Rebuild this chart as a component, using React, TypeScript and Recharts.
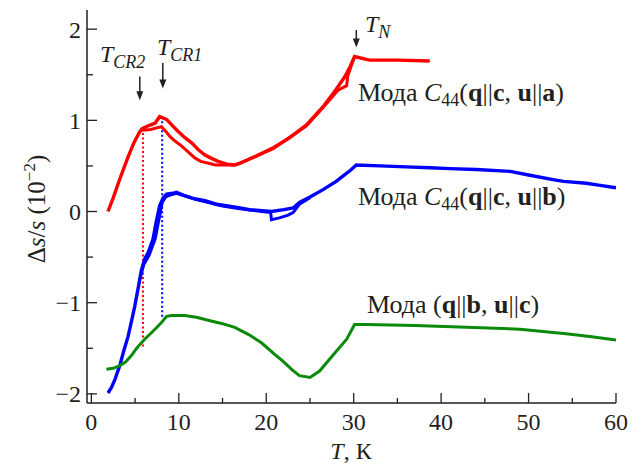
import React from 'react';
import { LineChart, Line, XAxis, YAxis, ReferenceLine } from 'recharts';

// Δs/s (in units of 1e-2) vs temperature T (K) for three acoustic modes
const redMain = [
  { t: 1.9, v: 0.0 }, { t: 2.5, v: 0.15 }, { t: 3.3, v: 0.37 }, { t: 4.2, v: 0.6 },
  { t: 4.9, v: 0.76 }, { t: 5.5, v: 0.87 }, { t: 5.8, v: 0.91 }, { t: 6.5, v: 0.94 },
  { t: 7.3, v: 0.97 }, { t: 7.8, v: 1.04 }, { t: 8.6, v: 1.01 }, { t: 9.3, v: 0.94 },
  { t: 9.9, v: 0.88 }, { t: 10.7, v: 0.81 }, { t: 11.5, v: 0.75 }, { t: 12.2, v: 0.68 },
  { t: 13.0, v: 0.62 }, { t: 13.8, v: 0.58 }, { t: 14.5, v: 0.55 }, { t: 15.5, v: 0.52 },
  { t: 16.4, v: 0.51 }, { t: 17.0, v: 0.53 }, { t: 18.9, v: 0.61 }, { t: 20.8, v: 0.7 },
  { t: 22.7, v: 0.81 }, { t: 24.6, v: 0.95 }, { t: 26.5, v: 1.15 }, { t: 28.0, v: 1.34 },
  { t: 29.0, v: 1.48 }, { t: 29.6, v: 1.59 }, { t: 30.1, v: 1.7 }, { t: 31.8, v: 1.66 },
  { t: 35.0, v: 1.66 }, { t: 38.7, v: 1.65 },
];

const redReturn = [
  { t: 5.7, v: 0.89 }, { t: 6.8, v: 0.9 }, { t: 7.6, v: 0.92 }, { t: 8.0, v: 0.93 },
  { t: 8.5, v: 0.88 }, { t: 9.0, v: 0.82 }, { t: 9.6, v: 0.77 }, { t: 10.3, v: 0.72 },
  { t: 11.0, v: 0.66 }, { t: 11.8, v: 0.59 }, { t: 12.5, v: 0.55 }, { t: 13.4, v: 0.53 },
  { t: 14.2, v: 0.51 }, { t: 15.0, v: 0.51 }, { t: 16.4, v: 0.51 }, { t: 17.0, v: 0.53 },
  { t: 20.8, v: 0.69 }, { t: 24.6, v: 0.94 }, { t: 26.5, v: 1.14 }, { t: 28.2, v: 1.33 },
  { t: 29.2, v: 1.38 }, { t: 29.3, v: 1.48 }, { t: 29.8, v: 1.62 }, { t: 30.1, v: 1.7 },
];

const blueMain = [
  { t: 1.9, v: -1.99 }, { t: 2.3, v: -1.93 }, { t: 2.7, v: -1.84 }, { t: 3.25, v: -1.69 },
  { t: 3.7, v: -1.53 }, { t: 4.2, v: -1.37 }, { t: 4.6, v: -1.2 }, { t: 4.96, v: -1.04 },
  { t: 5.35, v: -0.84 }, { t: 5.73, v: -0.64 }, { t: 6.1, v: -0.52 }, { t: 6.5, v: -0.45 },
  { t: 7.06, v: -0.3 }, { t: 7.4, v: -0.12 }, { t: 7.8, v: 0.06 }, { t: 8.2, v: 0.15 },
  { t: 8.6, v: 0.19 }, { t: 9.3, v: 0.2 }, { t: 9.73, v: 0.21 }, { t: 10.5, v: 0.18 },
  { t: 11.8, v: 0.14 }, { t: 13.0, v: 0.12 }, { t: 14.3, v: 0.08 }, { t: 15.6, v: 0.06 },
  { t: 17.0, v: 0.04 }, { t: 18.1, v: 0.02 }, { t: 19.5, v: 0.01 }, { t: 20.6, v: 0.0 },
  { t: 22.0, v: 0.02 }, { t: 23.1, v: 0.04 }, { t: 23.8, v: 0.1 }, { t: 25.0, v: 0.16 },
  { t: 26.5, v: 0.24 }, { t: 28.0, v: 0.33 }, { t: 28.8, v: 0.39 }, { t: 29.6, v: 0.45 },
  { t: 30.3, v: 0.51 }, { t: 33.0, v: 0.5 }, { t: 36.0, v: 0.49 }, { t: 38.7, v: 0.48 },
  { t: 41.0, v: 0.47 }, { t: 44.0, v: 0.46 }, { t: 47.9, v: 0.44 }, { t: 50.0, v: 0.4 },
  { t: 52.8, v: 0.35 }, { t: 54.0, v: 0.33 }, { t: 56.6, v: 0.31 }, { t: 58.0, v: 0.29 },
  { t: 60.0, v: 0.26 },
];

const blueReturn = [
  { t: 5.5, v: -0.76 }, { t: 6.0, v: -0.58 }, { t: 6.6, v: -0.48 }, { t: 7.3, v: -0.3 },
  { t: 7.7, v: -0.1 }, { t: 8.1, v: 0.1 }, { t: 8.5, v: 0.16 }, { t: 9.0, v: 0.18 },
  { t: 9.73, v: 0.2 }, { t: 12.0, v: 0.13 }, { t: 15.0, v: 0.06 }, { t: 17.0, v: 0.03 },
  { t: 19.5, v: 0.0 }, { t: 20.5, v: -0.01 }, { t: 20.6, v: -0.09 }, { t: 21.5, v: -0.07 },
  { t: 22.5, v: -0.04 }, { t: 23.1, v: -0.01 }, { t: 23.8, v: 0.08 }, { t: 25.0, v: 0.15 },
];

const greenMode = [
  { t: 1.72, v: -1.73 }, { t: 2.5, v: -1.72 }, { t: 3.25, v: -1.69 }, { t: 3.9, v: -1.65 },
  { t: 4.58, v: -1.58 }, { t: 5.1, v: -1.51 }, { t: 5.53, v: -1.46 }, { t: 6.2, v: -1.39 },
  { t: 6.87, v: -1.33 }, { t: 7.5, v: -1.27 }, { t: 8.0, v: -1.22 }, { t: 8.6, v: -1.15 },
  { t: 9.2, v: -1.14 }, { t: 10.1, v: -1.14 }, { t: 10.7, v: -1.14 }, { t: 12.0, v: -1.16 },
  { t: 13.7, v: -1.2 }, { t: 15.0, v: -1.23 }, { t: 16.4, v: -1.27 }, { t: 18.0, v: -1.35 },
  { t: 19.45, v: -1.44 }, { t: 21.0, v: -1.57 }, { t: 21.9, v: -1.64 }, { t: 23.0, v: -1.74 },
  { t: 23.8, v: -1.8 }, { t: 25.0, v: -1.82 }, { t: 26.1, v: -1.75 }, { t: 27.6, v: -1.58 },
  { t: 29.2, v: -1.4 }, { t: 30.1, v: -1.24 }, { t: 31.5, v: -1.24 }, { t: 37.0, v: -1.25 },
  { t: 42.9, v: -1.27 }, { t: 49.0, v: -1.29 }, { t: 54.3, v: -1.34 }, { t: 57.0, v: -1.37 },
  { t: 60.0, v: -1.41 },
];

const xTicks = [0, 5, 10, 15, 20, 25, 30, 35, 40, 45, 50, 55, 60];
const yTicks = [-2, -1.5, -1, -0.5, 0, 0.5, 1, 1.5, 2];

// transition temperatures: T_CR2, T_CR1, T_N
const tCR2 = 5.9;
const tCR1 = 8.1;
const tN = 30.4;

const FONT = '"Liberation Serif", "Times New Roman", serif';
const INK = '#231f20';

const XTick = (props: any) => {
  const { x, y, payload } = props;
  const major = payload.value % 10 === 0;
  return (
    <g>
      <line x1={x} y1={y} x2={x} y2={y - (major ? 10 : 5)} stroke={INK} strokeWidth={1.3} />
      {major && (
        <text x={x} y={y + 27} textAnchor="middle" fontFamily={FONT} fontSize={24} fill={INK}>
          {payload.value}
        </text>
      )}
    </g>
  );
};

const YTick = (props: any) => {
  const { x, y, payload } = props;
  const major = Number.isInteger(payload.value);
  const label = payload.value < 0 ? `\u2212${Math.abs(payload.value)}` : `${payload.value}`;
  return (
    <g>
      <line x1={x} y1={y} x2={x + (major ? 10 : 6)} y2={y} stroke={INK} strokeWidth={1.3} />
      {major && (
        <text x={x - 6} y={y} dy="0.35em" textAnchor="end" fontFamily={FONT} fontSize={24} fill={INK}>
          {label}
        </text>
      )}
    </g>
  );
};

const Arrow = (props: any) => {
  const { x1, y1, x2, y2 } = props;
  return (
    <g>
      <line x1={x1} y1={y1} x2={x2} y2={y2 - 6} stroke={INK} strokeWidth={1.5} />
      <polygon points={`${x2 - 3.5},${y2 - 9} ${x2 + 3.5},${y2 - 9} ${x2},${y2}`} fill={INK} />
    </g>
  );
};

const ModeLabel = ({ x, y, c44, q, u }: { x: number; y: number; c44: boolean; q: string; u: string }) => (
  <text x={x} y={y} fontFamily={FONT} fontSize={26} fill={INK}>
    <tspan>Мода </tspan>
    {c44 && (
      <>
        <tspan fontStyle="italic">C</tspan>
        <tspan fontSize={18} dy={5}>44</tspan>
        <tspan dy={-5}>(</tspan>
      </>
    )}
    {!c44 && <tspan>(</tspan>}
    <tspan fontWeight="bold">q</tspan>
    <tspan>||</tspan>
    <tspan fontWeight="bold">{q}</tspan>
    <tspan>, </tspan>
    <tspan fontWeight="bold">u</tspan>
    <tspan>||</tspan>
    <tspan fontWeight="bold">{u}</tspan>
    <tspan>)</tspan>
  </text>
);

const TLabel = ({ x, y, sub }: { x: number; y: number; sub: string }) => (
  <text x={x} y={y} fontFamily={FONT} fontSize={24} fill={INK} fontStyle="italic">
    <tspan>T</tspan>
    <tspan fontSize={18} dy={6}>{sub}</tspan>
  </text>
);

export default function App() {
  return (
    <div style={{ width: 625, height: 457 }}>
      <LineChart width={625} height={457} margin={{ top: 2, right: 17, left: 0, bottom: 0 }}>
        <XAxis
          type="number"
          dataKey="t"
          domain={[-0.5, 60]}
          ticks={xTicks}
          allowDataOverflow
          height={62}
          tickSize={0}
          tickMargin={0}
          tickLine={false}
          tick={<XTick />}
          axisLine={{ stroke: INK, strokeWidth: 1.5 }}
        />
        <XAxis
          xAxisId="top"
          orientation="top"
          type="number"
          domain={[-0.5, 60]}
          height={0}
          tick={false}
          tickLine={false}
          axisLine={{ stroke: INK, strokeWidth: 1.5 }}
        />
        <YAxis
          type="number"
          domain={[-2.1, 2.21]}
          ticks={yTicks}
          allowDataOverflow
          width={79}
          tickSize={0}
          tickMargin={0}
          tickLine={false}
          tick={<YTick />}
          axisLine={{ stroke: INK, strokeWidth: 1.5 }}
        />
        <YAxis
          yAxisId="right"
          orientation="right"
          type="number"
          domain={[-2.1, 2.21]}
          width={0}
          tick={false}
          tickLine={false}
          axisLine={{ stroke: INK, strokeWidth: 1.5 }}
        />

        <ReferenceLine
          segment={[{ x: tCR2, y: 0.86 }, { x: tCR2, y: -1.49 }]}
          stroke="#ff0000"
          strokeWidth={2}
          strokeDasharray="2 2.5"
        />
        <ReferenceLine
          segment={[{ x: tCR1, y: 0.99 }, { x: tCR1, y: -1.16 }]}
          stroke="#0000ff"
          strokeWidth={2}
          strokeDasharray="2 2.5"
        />

        <Line data={redReturn} dataKey="v" stroke="#ff0000" strokeWidth={3} dot={false} isAnimationActive={false} />
        <Line data={redMain} dataKey="v" stroke="#ff0000" strokeWidth={3.4} dot={false} isAnimationActive={false} />
        <Line data={blueReturn} dataKey="v" stroke="#0000ff" strokeWidth={3} dot={false} isAnimationActive={false} />
        <Line data={blueMain} dataKey="v" stroke="#0000ff" strokeWidth={3.4} dot={false} isAnimationActive={false} />
        <Line data={greenMode} dataKey="v" stroke="#0a8a0a" strokeWidth={3} dot={false} isAnimationActive={false} />

        <ReferenceLine segment={[{ x: 5.54, y: 1.48 }, { x: 5.54, y: 1.22 }]} shape={<Arrow />} />
        <ReferenceLine segment={[{ x: 8.17, y: 1.63 }, { x: 8.17, y: 1.35 }]} shape={<Arrow />} />
        <ReferenceLine segment={[{ x: tN - 0.1, y: 1.99 }, { x: tN - 0.1, y: 1.8 }]} shape={<Arrow />} />

        <TLabel x={92} y={54} sub="CR2" />
        <TLabel x={149} y={47} sub="CR1" />
        <TLabel x={357} y={24} sub="N" />

        <ModeLabel x={350} y={93} c44 q="c" u="a" />
        <ModeLabel x={350} y={197} c44 q="c" u="b" />
        <ModeLabel x={359} y={305} c44={false} q="b" u="c" />

        <text
          transform="translate(37,201) rotate(-90)"
          textAnchor="middle"
          fontFamily={FONT}
          fontSize={25}
          fill={INK}
        >
          <tspan>Δ</tspan>
          <tspan fontStyle="italic">s</tspan>
          <tspan>/</tspan>
          <tspan fontStyle="italic">s</tspan>
          <tspan> (10</tspan>
          <tspan fontSize={17} dy={-10}>−2</tspan>
          <tspan dy={10}>)</tspan>
        </text>

        <text x={343} y={451} textAnchor="middle" fontFamily={FONT} fontSize={24} fill={INK}>
          <tspan fontStyle="italic">T</tspan>
          <tspan>, К</tspan>
        </text>
      </LineChart>
    </div>
  );
}
